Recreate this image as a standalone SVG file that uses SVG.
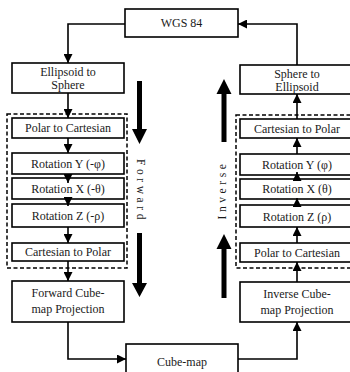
<svg xmlns="http://www.w3.org/2000/svg" width="350" height="372" viewBox="0 0 350 372">
<defs>
<style>
.box{fill:#fff;stroke:#000;stroke-width:1.6}
.dash{fill:none;stroke:#000;stroke-width:1.5;stroke-dasharray:4,2.5}
.ln{fill:none;stroke:#000;stroke-width:1.6}
.big{fill:#000;stroke:none}
.t{font-family:"Liberation Serif","DejaVu Serif",serif;font-size:12px;fill:#1a1a1a;text-anchor:middle}
.vt{font-family:"Liberation Serif","DejaVu Serif",serif;font-size:11.5px;letter-spacing:3.6px;fill:#1a1a1a;text-anchor:middle}
</style>
<marker id="ah" viewBox="0 0 10 10" refX="10" refY="5" markerWidth="9" markerHeight="9" markerUnits="userSpaceOnUse" orient="auto">
<path d="M0,0 L10,5 L0,10 Z" fill="#000"/>
</marker>
</defs>

<g id="dashed-forward"><rect class="dash" x="7" y="114" width="120" height="154"/></g>
<g id="dashed-inverse"><rect class="dash" x="236" y="115" width="124" height="153"/></g>

<g id="connectors">
<polyline class="ln" points="125,24 68,24 68,63" marker-end="url(#ah)"/>
<line class="ln" x1="68" y1="93" x2="68" y2="118" marker-end="url(#ah)"/>
<line class="ln" x1="68" y1="138" x2="68" y2="153" marker-end="url(#ah)"/>
<line class="ln" x1="68" y1="227" x2="68" y2="243" marker-end="url(#ah)"/>
<line class="ln" x1="68" y1="261" x2="68" y2="281" marker-end="url(#ah)"/>
<polyline class="ln" points="68,322 68,359 126,359" marker-end="url(#ah)"/>
<polyline class="ln" points="238,359 297,359 297,322" marker-end="url(#ah)"/>
<line class="ln" x1="297" y1="282" x2="297" y2="262" marker-end="url(#ah)"/>
<line class="ln" x1="297" y1="243" x2="297" y2="227" marker-end="url(#ah)"/>
<line class="ln" x1="297" y1="154" x2="297" y2="138" marker-end="url(#ah)"/>
<line class="ln" x1="297" y1="119" x2="297" y2="94" marker-end="url(#ah)"/>
<polyline class="ln" points="297,65 297,24 238,24" marker-end="url(#ah)"/>
</g>

<g id="wgs84"><rect class="box" x="125" y="9" width="113" height="28"/><text class="t" x="181.5" y="27">WGS 84</text></g>

<g id="ellipsoid-to-sphere"><rect class="box" x="12" y="63" width="112" height="30"/><text class="t" x="68" y="76">Ellipsoid to</text><text class="t" x="68" y="89">Sphere</text></g>
<g id="f-polar-to-cartesian"><rect class="box" x="12" y="118" width="112" height="20"/><text class="t" x="68" y="132">Polar to Cartesian</text></g>
<g id="f-rot-y"><rect class="box" x="12" y="153" width="112" height="21"/><text class="t" x="68" y="168">Rotation Y (-φ)</text></g>
<g id="f-rot-x"><rect class="box" x="12" y="178" width="112" height="21"/><text class="t" x="68" y="193">Rotation X (-θ)</text></g>
<g id="f-rot-z"><rect class="box" x="12" y="204" width="112" height="23"/><text class="t" x="68" y="220">Rotation Z (-ρ)</text></g>
<g id="f-cartesian-to-polar"><rect class="box" x="12" y="243" width="112" height="18"/><text class="t" x="68" y="256">Cartesian  to Polar</text></g>
<g id="forward-cubemap"><rect class="box" x="12" y="281" width="112" height="41"/><text class="t" x="68" y="297">Forward Cube-</text><text class="t" x="68" y="313">map Projection</text></g>

<g id="cubemap"><rect class="box" x="126" y="344" width="112" height="40"/><text class="t" x="182" y="366">Cube-map</text></g>

<g id="inverse-cubemap"><rect class="box" x="240" y="282" width="115" height="40"/><text class="t" x="297" y="298">Inverse Cube-</text><text class="t" x="297" y="314">map Projection</text></g>
<g id="i-polar-to-cartesian"><rect class="box" x="240" y="243" width="115" height="19"/><text class="t" x="297" y="257">Polar to Cartesian</text></g>
<g id="i-rot-z"><rect class="box" x="240" y="205" width="115" height="22"/><text class="t" x="297" y="221">Rotation Z (ρ)</text></g>
<g id="i-rot-x"><rect class="box" x="240" y="179" width="115" height="20"/><text class="t" x="297" y="193">Rotation X (θ)</text></g>
<g id="i-rot-y"><rect class="box" x="240" y="154" width="115" height="21"/><text class="t" x="297" y="169">Rotation Y (φ)</text></g>
<g id="i-cartesian-to-polar"><rect class="box" x="240" y="119" width="115" height="19"/><text class="t" x="297" y="133">Cartesian  to Polar</text></g>
<g id="sphere-to-ellipsoid"><rect class="box" x="240" y="65" width="115" height="29"/><text class="t" x="297" y="78">Sphere to</text><text class="t" x="297" y="91">Ellipsoid</text></g>

<g id="inner-arrows">
<line class="ln" x1="68" y1="174" x2="68" y2="183" marker-end="url(#ah)"/>
<line class="ln" x1="68" y1="199" x2="68" y2="206" marker-end="url(#ah)"/>
<line class="ln" x1="297" y1="205" x2="297" y2="198" marker-end="url(#ah)"/>
<line class="ln" x1="297" y1="179" x2="297" y2="172" marker-end="url(#ah)"/>
</g>

<g id="forward-arrows">
<path class="big" d="M137,81 H142 V129 H147 L139.5,144 L132,129 H137 Z"/>
<path class="big" d="M137,233 H142 V283 H147 L139.5,297 L132,283 H137 Z"/>
<text class="vt" transform="translate(137,191) rotate(90)" x="0" y="0">Forward</text>
</g>
<g id="inverse-arrows">
<path class="big" d="M221.5,142 H226.5 V94 H231.5 L224,79 L216.5,94 H221.5 Z"/>
<path class="big" d="M221.5,298 H226.5 V249 H231.5 L224,234 L216.5,249 H221.5 Z"/>
<text class="vt" transform="translate(226,190) rotate(-90)" x="0" y="0">Inverse</text>
</g>
</svg>
